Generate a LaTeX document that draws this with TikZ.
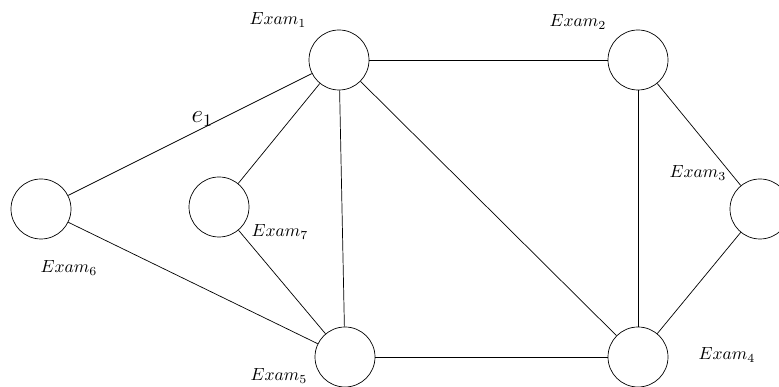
\documentclass[tikz,border=0pt]{standalone}
\usepackage{amsmath}
\usepackage{tikz}
\usetikzlibrary{positioning}

\begin{document}
\begin{tikzpicture}[
  exam/.style={circle, draw, minimum size=1.2cm, inner sep=0pt},
  lbl/.style={font=\normalsize},
  edge/.style={draw},
]
  \useasboundingbox (0,0) rectangle (15.58,7.74);
  \node[exam] (x1) at (6.78, 6.54) {};
  \node[exam] (x2) at (12.76, 6.54) {};
  \node[exam] (x3) at (15.2, 3.56) {};
  \node[exam] (x4) at (12.76, 0.6) {};
  \node[exam] (x5) at (6.9, 0.6) {};
  \node[exam] (x6) at (0.82, 3.56) {};
  \node[exam] (x7) at (4.38, 3.6) {};

  \node[lbl] (l1) at (5.56, 7.34) {$Exam_1$};
  \node[lbl] (l2) at (11.56, 7.3) {$Exam_2$};
  \node[lbl] (l3) at (13.96, 4.28) {$Exam_3$};
  \node[lbl] (l4) at (14.54, 0.64) {$Exam_4$};
  \node[lbl] (l5) at (5.58, 0.22) {$Exam_5$};
  \node[lbl] (l6) at (1.38, 2.38) {$Exam_6$};
  \node[lbl] (l7) at (5.6, 3.1) {$Exam_7$};

  \draw[edge] (x6) -- node[above, pos=0.55, inner sep=1pt, font=\Large] (e1) {$e_1$} (x1);
  \draw[edge] (x1) -- (x2);
  \draw[edge] (x1) -- (x7);
  \draw[edge] (x1) -- (x5);
  \draw[edge] (x1) -- (x4);
  \draw[edge] (x2) -- (x4);
  \draw[edge] (x2) -- (x3);
  \draw[edge] (x3) -- (x4);
  \draw[edge] (x4) -- (x5);
  \draw[edge] (x5) -- (x6);
  \draw[edge] (x5) -- (x7);
\end{tikzpicture}
\end{document}
